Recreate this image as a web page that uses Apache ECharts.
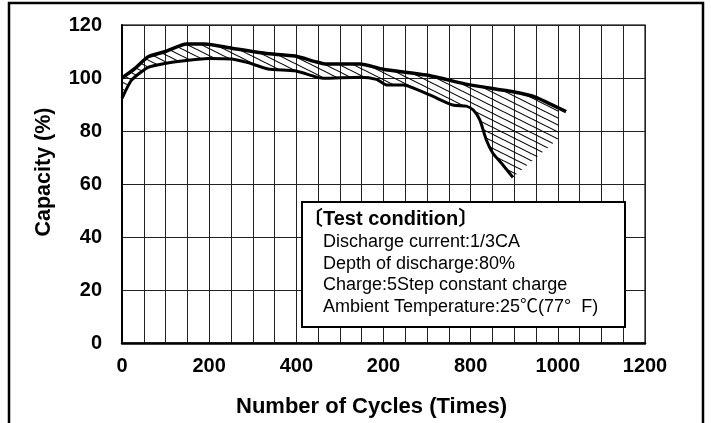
<!DOCTYPE html>
<html>
<head>
<meta charset="utf-8">
<script src="https://cdn.jsdelivr.net/npm/echarts@6/dist/echarts.min.js"></script>
<style>
  body { margin: 0; background: #fff; }
  #capacity { width: 711px; height: 423px; }
</style>
</head>
<body>
<div id="capacity"></div>
<script>
// upper and lower capacity curves (cycles, %)
var upperCycles = [0, 30, 60, 100, 148, 190, 252, 328, 397, 443, 466, 546, 599, 699, 798, 897, 950, 1019];
var upperCap = [100, 103.6, 108, 110, 112.8, 112.8, 111.2, 109.3, 108.3, 106.2, 105.3, 105.3, 103.3, 101.1, 97.4, 94.8, 92.7, 87.3];

var lowerCycles = [0, 22, 60, 99, 148, 198, 252, 289, 335, 397, 443, 461, 546, 584, 607, 645, 706, 759, 790, 806, 821, 836, 851, 874, 897];
var lowerCap = [92.3, 99.2, 104, 105.5, 106.6, 107.4, 107.2, 105.8, 103.4, 102.7, 100.5, 99.9, 100.3, 99.5, 97.4, 97.4, 93.6, 89.8, 89.4, 87.9, 84.2, 76.6, 71.6, 67.2, 62.5];

// right edge of the hatched band
var hatchEdgeCycles = [1002, 1002];
var hatchEdgeCap = [88.6, 77.2];

var xTickLabels = ['0', '200', '400', '200', '800', '1000', '1200'];
var yTicks = [0, 20, 40, 60, 80, 100, 120];

var conditionTitle = '〔Test condition〕';
var conditionLines = [
  'Discharge current:1/3CA',
  'Depth of discharge:80%',
  'Charge:5Step constant charge',
  'Ambient Temperature:25℃(77°  F)'
];

var FONT = '"Liberation Sans", Arial, "Noto Sans CJK JP", sans-serif';

function pairs(xs, ys) {
  return xs.map(function (x, i) { return [x, ys[i]]; });
}

function hatchPattern() {
  var c = document.createElement('canvas');
  c.width = 14;
  c.height = 7;
  var ctx = c.getContext('2d');
  ctx.strokeStyle = '#000';
  ctx.lineWidth = 1.1;
  ctx.beginPath();
  [-7, 0, 7].forEach(function (dy) {
    ctx.moveTo(0, dy);
    ctx.lineTo(14, dy + 7);
  });
  ctx.stroke();
  return c;
}

function renderBand(params, api) {
  var pts = [];
  upperCycles.forEach(function (x, i) {
    if (x <= hatchEdgeCycles[0]) pts.push(api.coord([x, upperCap[i]]));
  });
  hatchEdgeCycles.forEach(function (x, i) {
    pts.push(api.coord([x, hatchEdgeCap[i]]));
  });
  for (var i = lowerCycles.length - 1; i >= 0; i--) {
    pts.push(api.coord([lowerCycles[i], lowerCap[i]]));
  }
  return {
    type: 'polygon',
    shape: { points: pts },
    style: { fill: { image: hatchPattern(), repeat: 'repeat' }, stroke: null }
  };
}

function conditionBox() {
  var items = [
    {
      type: 'rect', z: 100,
      shape: { x: 302, y: 202, width: 323, height: 125 },
      style: { fill: '#fff', stroke: '#000', lineWidth: 2 }
    },
    {
      type: 'text', z: 101, x: 303, y: 219,
      style: { text: conditionTitle, font: 'bold 20px ' + FONT, fill: '#000', verticalAlign: 'middle' }
    }
  ];
  conditionLines.forEach(function (t, i) {
    items.push({
      type: 'text', z: 101, x: 323, y: 242 + i * 21.7,
      style: { text: t, font: '18px ' + FONT, fill: '#000', verticalAlign: 'middle' }
    });
  });
  return items;
}

function graficoCapacidade() {
  var chart = echarts.init(document.getElementById('capacity'));

  var option = {
    animation: false,
    grid: {
      left: 122, right: 66, top: 25, bottom: 80,
      show: true, borderColor: '#444', borderWidth: 1.5
    },
    xAxis: {
      type: 'value', min: 0, max: 1200, interval: 50,
      name: 'Number of Cycles (Times)',
      nameLocation: 'middle', nameGap: 53,
      nameTextStyle: { fontFamily: FONT, fontWeight: 'bold', fontSize: 22, color: '#000', padding: [0, 24, 0, 0] },
      axisLine: { lineStyle: { color: '#000', width: 2.5 } },
      axisTick: { show: false },
      axisLabel: {
        margin: 13, fontFamily: FONT, fontWeight: 'bold', fontSize: 20, color: '#000',
        formatter: function (v) { return v % 200 === 0 ? xTickLabels[v / 200] : ''; }
      },
      splitLine: { lineStyle: { color: '#222', width: 1 } }
    },
    yAxis: {
      type: 'value', min: yTicks[0], max: yTicks[yTicks.length - 1], interval: 20,
      name: 'Capacity (%)',
      nameLocation: 'middle', nameGap: 67,
      nameTextStyle: { fontFamily: FONT, fontWeight: 'bold', fontSize: 21.5, color: '#000', padding: [0, 0, 0, 24] },
      axisLine: { show: true, lineStyle: { color: '#000', width: 2 } },
      axisTick: { show: false },
      axisLabel: { margin: 20, fontFamily: FONT, fontWeight: 'bold', fontSize: 20, color: '#000' },
      splitLine: { lineStyle: { color: '#222', width: 1 } }
    },
    graphic: [
      {
        type: 'rect', z: 100,
        shape: { x: 9, y: 3, width: 694, height: 500 },
        style: { fill: null, stroke: '#000', lineWidth: 2.5 }
      }
    ].concat(conditionBox()),
    series: [
      {
        type: 'custom',
        name: 'band',
        renderItem: renderBand,
        data: [[0, 0]],
        z: 2,
        silent: true
      },
      {
        type: 'line',
        name: 'upper',
        data: pairs(upperCycles, upperCap),
        smooth: 0.2,
        symbol: 'none',
        lineStyle: { color: '#000', width: 3.5 },
        z: 3
      },
      {
        type: 'line',
        name: 'lower',
        data: pairs(lowerCycles, lowerCap),
        smooth: 0.2,
        symbol: 'none',
        lineStyle: { color: '#000', width: 3 },
        z: 3
      }
    ]
  };

  chart.setOption(option);
}

graficoCapacidade();
</script>
</body>
</html>
